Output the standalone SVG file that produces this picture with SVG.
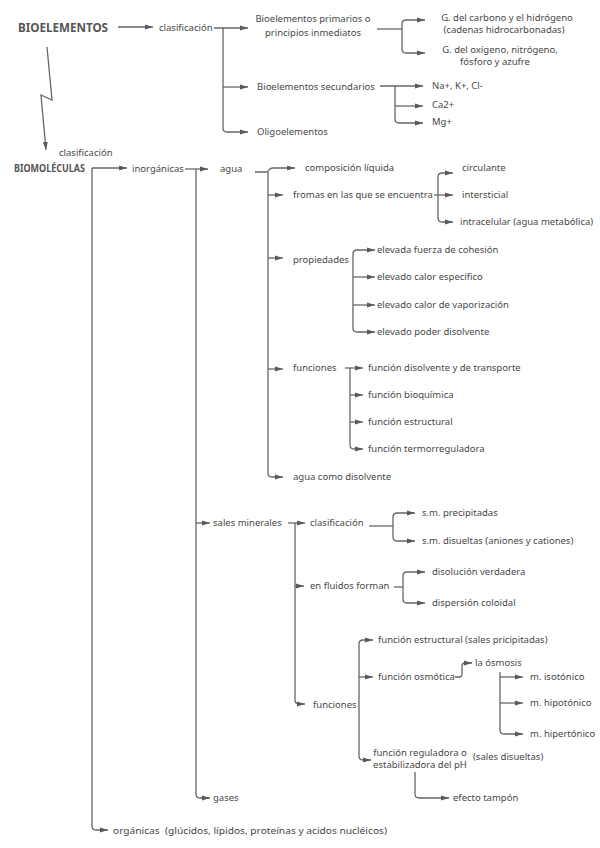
<svg xmlns="http://www.w3.org/2000/svg" width="600" height="848" viewBox="0 0 600 848">
<defs>
<marker id="a" markerWidth="9" markerHeight="7" refX="8" refY="3" orient="auto" markerUnits="userSpaceOnUse"><path d="M0,0.5 L8,3 L0,5.5 z" fill="#5a5a5a"/></marker>
<style>
.c{fill:none;stroke:#666;stroke-width:1.3}
.t{font-family:"Noto Sans","Open Sans",sans-serif;font-size:9.5px;fill:#474747}
.b{font-family:"Noto Sans","Open Sans",sans-serif;font-weight:bold;fill:#555}
.m{text-anchor:middle}
</style>
</defs>
<rect width="600" height="848" fill="#fff"/>
<g id="connectors">
<path class="c" marker-end="url(#a)" d="M118,27 H153"/>
<path class="c" marker-end="url(#a)" d="M214,28 H248"/>
<path class="c" marker-end="url(#a)" d="M223,28 V128 Q223,132 227,132 H248"/>
<path class="c" marker-end="url(#a)" d="M223,87 H248"/>
<path class="c" d="M377,29 H402"/>
<path class="c" marker-end="url(#a)" d="M402,29 V24 Q402,20 406,20 H425"/>
<path class="c" marker-end="url(#a)" d="M402,29 V49 Q402,53 406,53 H425"/>
<path class="c" marker-end="url(#a)" d="M380,86 H423"/>
<path class="c" marker-end="url(#a)" d="M395,86 V119 Q395,123 399,123 H423"/>
<path class="c" marker-end="url(#a)" d="M395,106 H423"/>
<path class="c" marker-end="url(#a)" d="M47,47 L52,100 L41,95 L46,150"/>
<path class="c" marker-end="url(#a)" d="M92,168 H127"/>
<path class="c" marker-end="url(#a)" d="M92,168 V826 Q92,830 96,830 H108"/>
<path class="c" marker-end="url(#a)" d="M185,169 H208"/>
<path class="c" marker-end="url(#a)" d="M196,169 V794 Q196,798 200,798 H210"/>
<path class="c" marker-end="url(#a)" d="M196,523 H210"/>
<path class="c" marker-end="url(#a)" d="M255,172 H266 Q268,172 269,170 Q270,168 273,168 H295"/>
<path class="c" marker-end="url(#a)" d="M268,172 V473 Q268,477 272,477 H283"/>
<path class="c" marker-end="url(#a)" d="M268,195 H283"/>
<path class="c" marker-end="url(#a)" d="M268,258 H283"/>
<path class="c" marker-end="url(#a)" d="M268,369 H283"/>
<path class="c" marker-end="url(#a)" d="M434,195 H453"/>
<path class="c" marker-end="url(#a)" d="M438,195 V177 Q438,173 442,173 H453"/>
<path class="c" marker-end="url(#a)" d="M438,195 V218 Q438,222 442,222 H453"/>
<path class="c" marker-end="url(#a)" d="M353,260 V254 Q353,250 357,250 H375"/>
<path class="c" marker-end="url(#a)" d="M353,260 V328 Q353,332 357,332 H375"/>
<path class="c" marker-end="url(#a)" d="M353,277 H375"/>
<path class="c" marker-end="url(#a)" d="M353,305 H375"/>
<path class="c" marker-end="url(#a)" d="M345,368 H363"/>
<path class="c" marker-end="url(#a)" d="M350,368 V445 Q350,449 354,449 H363"/>
<path class="c" marker-end="url(#a)" d="M350,395 H363"/>
<path class="c" marker-end="url(#a)" d="M350,422 H363"/>
<path class="c" marker-end="url(#a)" d="M288,523 H305"/>
<path class="c" marker-end="url(#a)" d="M295,523 V700 Q295,704 299,704 H305"/>
<path class="c" marker-end="url(#a)" d="M295,586 H304"/>
<path class="c" d="M369,526 H393"/>
<path class="c" marker-end="url(#a)" d="M393,526 V517 Q393,513 397,513 H415"/>
<path class="c" marker-end="url(#a)" d="M393,526 V537 Q393,541 397,541 H415"/>
<path class="c" d="M394,587 H403"/>
<path class="c" marker-end="url(#a)" d="M403,587 V576 Q403,572 407,572 H425"/>
<path class="c" marker-end="url(#a)" d="M403,587 V599 Q403,603 407,603 H425"/>
<path class="c" marker-end="url(#a)" d="M359,704 V644 Q359,640 363,640 H373"/>
<path class="c" marker-end="url(#a)" d="M359,677 H373"/>
<path class="c" marker-end="url(#a)" d="M359,704 V756 Q359,760 363,760 H371"/>
<path class="c" marker-end="url(#a)" d="M455,677 H459 Q462,677 462,674 V666 Q462,663 465,663 H472"/>
<path class="c" marker-end="url(#a)" d="M500,672 V730 Q500,734 504,734 H523"/>
<path class="c" marker-end="url(#a)" d="M500,677 H523"/>
<path class="c" marker-end="url(#a)" d="M500,703 H523"/>
<path class="c" marker-end="url(#a)" d="M415,772 V794 Q415,798 419,798 H449"/>
</g>
<g id="n-bioelementos"><text class="b" x="18" y="32" font-size="13" textLength="90" lengthAdjust="spacingAndGlyphs">BIOELEMENTOS</text></g>
<g id="n-clasif1"><text class="t" x="159" y="31">clasificación</text></g>
<g id="n-primarios"><text class="t m" x="313" y="22">Bioelementos primarios o</text><text class="t m" x="313" y="36">principios inmediatos</text></g>
<g id="n-secundarios"><text class="t" x="257" y="90">Bioelementos secundarios</text></g>
<g id="n-oligo"><text class="t" x="257" y="135">Oligoelementos</text></g>
<g id="n-gcarbono"><text class="t m" x="507" y="21">G. del carbono y el hidrógeno</text><text class="t m" x="504" y="33">(cadenas hidrocarbonadas)</text></g>
<g id="n-goxigeno"><text class="t m" x="500" y="53">G. del oxígeno, nitrógeno,</text><text class="t m" x="495" y="65">fósforo y azufre</text></g>
<g id="n-na"><text class="t" x="432" y="89">Na+, K+, Cl-</text></g>
<g id="n-ca"><text class="t" x="432" y="108">Ca2+</text></g>
<g id="n-mg"><text class="t" x="432" y="125">Mg+</text></g>
<g id="n-clasif2"><text class="t" x="59" y="156" font-size="6.5">clasificación</text></g>
<g id="n-biomoleculas"><text class="b" x="14" y="172" font-size="10.5" textLength="71" lengthAdjust="spacingAndGlyphs">BIOMOLÉCULAS</text></g>
<g id="n-inorganicas"><text class="t" x="132" y="172">inorgánicas</text></g>
<g id="n-agua"><text class="t" x="220" y="172">agua</text></g>
<g id="n-composicion"><text class="t" x="305" y="171">composición líquida</text></g>
<g id="n-fromas"><text class="t" x="293" y="198">fromas en las que se encuentra</text></g>
<g id="n-circulante"><text class="t" x="462" y="171">circulante</text></g>
<g id="n-intersticial"><text class="t" x="462" y="198">intersticial</text></g>
<g id="n-intracelular"><text class="t" x="460" y="225">intracelular (agua metabólica)</text></g>
<g id="n-propiedades"><text class="t" x="293" y="263">propiedades</text></g>
<g id="n-cohesion"><text class="t" x="377" y="253">elevada fuerza de cohesión</text></g>
<g id="n-especifico"><text class="t" x="377" y="280">elevado calor específico</text></g>
<g id="n-vaporizacion"><text class="t" x="377" y="308">elevado calor de vaporización</text></g>
<g id="n-disolvente"><text class="t" x="377" y="335">elevado poder disolvente</text></g>
<g id="n-funciones1"><text class="t" x="293" y="371">funciones</text></g>
<g id="n-f-disolvente"><text class="t" x="368" y="371">función disolvente y de transporte</text></g>
<g id="n-f-bioquimica"><text class="t" x="368" y="398">función bioquímica</text></g>
<g id="n-f-estructural"><text class="t" x="368" y="425">función estructural</text></g>
<g id="n-f-termo"><text class="t" x="368" y="452">función termorreguladora</text></g>
<g id="n-agua-disolvente"><text class="t" x="293" y="480">agua como disolvente</text></g>
<g id="n-sales"><text class="t" x="213" y="526">sales minerales</text></g>
<g id="n-clasif3"><text class="t" x="310" y="526">clasificación</text></g>
<g id="n-precipitadas"><text class="t" x="422" y="516">s.m. precipitadas</text></g>
<g id="n-disueltas"><text class="t" x="422" y="544">s.m. disueltas (aniones y cationes)</text></g>
<g id="n-fluidos"><text class="t" x="310" y="589">en fluidos forman</text></g>
<g id="n-verdadera"><text class="t" x="432" y="575">disolución verdadera</text></g>
<g id="n-coloidal"><text class="t" x="432" y="606">dispersión coloidal</text></g>
<g id="n-funciones2"><text class="t" x="313" y="708">funciones</text></g>
<g id="n-f-estructural2"><text class="t" x="378" y="643">función estructural (sales pricipitadas)</text></g>
<g id="n-f-osmotica"><text class="t" x="378" y="680">función osmótica</text></g>
<g id="n-osmosis"><text class="t" x="475" y="666">la ósmosis</text></g>
<g id="n-isotonico"><text class="t" x="530" y="680">m. isotónico</text></g>
<g id="n-hipotonico"><text class="t" x="530" y="706">m. hipotónico</text></g>
<g id="n-hipertonico"><text class="t" x="530" y="737">m. hipertónico</text></g>
<g id="n-f-reguladora"><text class="t m" x="420" y="756">función reguladora o</text><text class="t m" x="420" y="768">estabilizadora del pH</text></g>
<g id="n-sales-disueltas"><text class="t" x="473" y="760">(sales disueltas)</text></g>
<g id="n-tampon"><text class="t" x="453" y="801">efecto tampón</text></g>
<g id="n-gases"><text class="t" x="213" y="801">gases</text></g>
<g id="n-organicas"><text class="t" x="113" y="834" xml:space="preserve" textLength="274" lengthAdjust="spacingAndGlyphs">orgánicas  (glúcidos, lípidos, proteínas y acidos nucléicos)</text></g>
</svg>
